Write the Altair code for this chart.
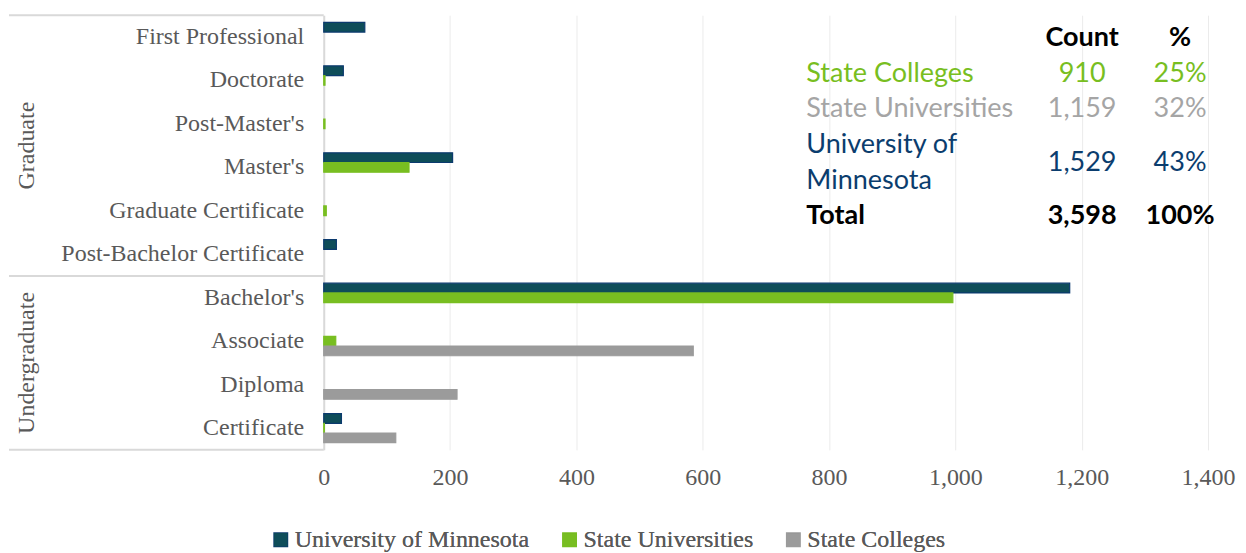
import altair as alt
import pandas as pd

# ---------------- data ----------------
categories = ["First Professional", "Doctorate", "Post-Master's", "Master's",
              "Graduate Certificate", "Post-Bachelor Certificate",
              "Bachelor's", "Associate", "Diploma", "Certificate"]
group_names = ["Graduate", "Undergraduate"]
group_sizes = [6, 4]
series_names = ["University of Minnesota", "State Universities", "State Colleges"]
umn_values = [65, 31, 0, 204, 0, 20, 1181, 0, 0, 28]
su_values = [0, 2, 2, 135, 4, 0, 996, 19, 0, 1]
sc_values = [0, 0, 0, 0, 0, 0, 0, 585, 211, 114]
x_ticks = [0, 200, 400, 600, 800, 1000, 1200, 1400]

table_names = ["State Colleges", "State Universities", "University of\nMinnesota", "Total"]
table_counts = [910, 1159, 1529, 3598]
table_pcts = [25, 32, 43, 100]
table_colors = ["#78BE21", "#A5A5A5", "#0B3D6E", "#000000"]
table_name_rows = [1, 2, 3, 5]
table_value_rows = [1, 2, 3.5, 5]
table_bold = [False, False, False, True]
header_labels = ["Count", "%"]

fill_colors = ["#0E4D59", "#78BE21", "#9B9B9B"]
stroke_colors = ["#0B3A6E", "#78BE21", "#9B9B9B"]

# ---------------- layout ----------------
W, H = 885, 435
SERIF = "Liberation Serif"
SANS = "Lato"
GREY_TXT = "#595959"

rows = []
for i, c in enumerate(categories):
    for s, vals in zip(series_names, [umn_values, su_values, sc_values]):
        rows.append({"category": c, "series": s, "value": vals[i]})
df = pd.DataFrame(rows)

legend_cfg = dict(
    orient="none", legendX=-55, legendY=513, direction="horizontal", title=None,
    symbolType="square", symbolSize=180, symbolStrokeWidth=1.5,
    labelFont=SERIF, labelFontSize=24, labelColor=GREY_TXT,
    columnPadding=28, labelOffset=2, labelLimit=400,
)

bars = alt.Chart(df).transform_filter("datum.value > 0").mark_bar(strokeWidth=1.2).encode(
    y=alt.Y("category:N", sort=categories,
            scale=alt.Scale(paddingInner=0.33, paddingOuter=0.165),
            axis=alt.Axis(title=None, labelFont=SERIF, labelFontSize=24, labelColor=GREY_TXT,
                          labelPadding=20, ticks=False, domainColor="#D9D9D9", domainWidth=2,
                          labelLimit=400)),
    yOffset=alt.YOffset("series:N", sort=series_names,
                        scale=alt.Scale(domain=series_names, paddingInner=0, paddingOuter=0)),
    x=alt.X("value:Q", scale=alt.Scale(domain=[0, 1400], nice=False),
            axis=alt.Axis(values=x_ticks, format=",.0f", title=None, grid=True, gridColor="#EBEBEB",
                          domain=False, ticks=False, labelFont=SERIF, labelFontSize=24,
                          labelColor=GREY_TXT, labelPadding=16, labelFlush=False,
                          labelOverlap=False)),
    color=alt.Color("series:N", sort=series_names,
                    scale=alt.Scale(domain=series_names, range=fill_colors),
                    legend=alt.Legend(**legend_cfg)),
    stroke=alt.Stroke("series:N", sort=series_names,
                      scale=alt.Scale(domain=series_names, range=stroke_colors),
                      legend=alt.Legend(**legend_cfg)),
)

# ----- two-level category box (axis decoration) -----
step = H / len(categories)
bounds = [0]
for n in group_sizes:
    bounds.append(bounds[-1] + n * step)
rule_df = pd.DataFrame({"ypx": bounds})
box_lines = alt.Chart(rule_df).mark_rule(color="#D9D9D9", strokeWidth=2).encode(
    y=alt.Y("ypx:Q", scale=None),
    x=alt.value(-315), x2=alt.value(0),
)
grp_df = pd.DataFrame({
    "group": group_names,
    "ypx": [(bounds[i] + bounds[i + 1]) / 2 for i in range(len(group_names))],
})
group_labels = alt.Chart(grp_df).mark_text(
    angle=270, font=SERIF, fontSize=24, color=GREY_TXT, align="center", baseline="middle"
).encode(y=alt.Y("ypx:Q", scale=None), x=alt.value(-297), text="group:N")

# ----- summary table -----
tdf = pd.DataFrame({
    "name": table_names, "count": table_counts, "pct": table_pcts,
    "color": table_colors, "nrow": table_name_rows, "vrow": table_value_rows,
    "bold": table_bold,
})
row_scale = alt.Scale(domain=[0, 5], range=[23, 201])


def tcol(field, rowfield, xpx, align, bold, fmt=None, calc=None):
    base = alt.Chart(tdf).transform_filter(
        "datum.bold" if bold else "!datum.bold")
    if calc:
        base = base.transform_calculate(txt=calc)
        text = alt.Text("txt:N")
    elif fmt:
        text = alt.Text(field + ":Q", format=fmt)
    else:
        text = alt.Text(field + ":N")
    return base.mark_text(
        font=SANS, fontSize=27, align=align, baseline="middle",
        fontWeight="bold" if bold else "normal", lineBreak="\n", lineHeight=36,
    ).encode(
        y=alt.Y(rowfield + ":Q", scale=row_scale, axis=None),
        x=alt.value(xpx), text=text,
        color=alt.Color("color:N", scale=None),
    )


X_NAME, X_COUNT, X_PCT = 483, 759, 857
table_layers = []
for b in (False, True):
    table_layers.append(tcol("name", "nrow", X_NAME, "left", b))
    table_layers.append(tcol("count", "vrow", X_COUNT, "center", b, fmt=","))
    table_layers.append(tcol("pct", "vrow", X_PCT, "center", b, calc="datum.pct + '%'"))

hdf = pd.DataFrame({"label": header_labels, "xpx": [X_COUNT, X_PCT], "row": [0, 0]})
header = alt.Chart(hdf).mark_text(
    font=SANS, fontSize=27, fontWeight="bold", color="#000000", align="center", baseline="middle"
).encode(
    y=alt.Y("row:Q", scale=row_scale, axis=None),
    x=alt.X("xpx:Q", scale=None), text="label:N",
)

chart = alt.layer(bars, box_lines, group_labels, *table_layers, header).resolve_scale(
    y="independent", x="independent", color="independent"
).properties(
    width=W, height=H,
    autosize=alt.AutoSizeParams(type="none"),
    padding={"left": 316, "top": 7, "right": 30, "bottom": 102},
).configure_view(stroke=None)

chart.save("out.html", embed_options={"renderer": "svg", "actions": False})
